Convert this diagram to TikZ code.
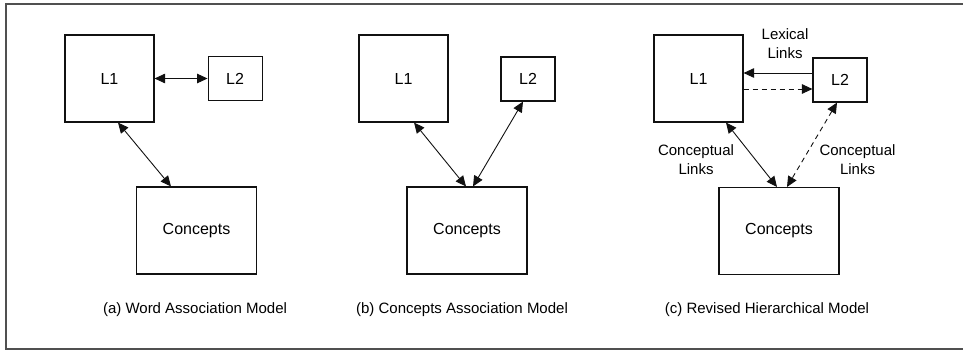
\documentclass[tikz,border=0pt]{standalone}
\usepackage{fontspec}
\setmainfont{Liberation Sans}
\usetikzlibrary{arrows.meta,positioning}
\definecolor{FrameGray}{HTML}{505050}
\definecolor{LineBlack}{HTML}{111111}

\begin{document}
\begin{tikzpicture}[x=1pt,y=-1pt,
  big/.style={rectangle,draw=LineBlack,line width=1.1pt,minimum width=89pt,minimum height=87pt,font=\fontsize{16}{19}\selectfont,inner sep=0pt},
  small/.style={rectangle,draw=LineBlack,line width=1.1pt,minimum width=54pt,minimum height=44pt,font=\fontsize{16}{19}\selectfont,inner sep=0pt},
  conc/.style={rectangle,draw=LineBlack,line width=1.1pt,minimum width=120pt,minimum height=87pt,font=\fontsize{16}{19}\selectfont,inner sep=0pt},
  caption/.style={font=\fontsize{15}{18}\selectfont,inner sep=0pt},
  linklabel/.style={font=\fontsize{15}{19}\selectfont,align=center,inner sep=0pt},
  both/.style={{Triangle[length=10.5pt,width=9.5pt]}-{Triangle[length=10.5pt,width=9.5pt]},line width=0.9pt,draw=LineBlack},
  single/.style={-{Triangle[length=10.5pt,width=9.5pt]},line width=0.9pt,draw=LineBlack},
  broken/.style={dash pattern=on 5pt off 4pt}]
\useasboundingbox (0,0) rectangle (963,351);
\draw[FrameGray,line width=1.4pt] (963,4) -- (6,4) -- (6,349) -- (963,349);

% (a) word association
\node[big] (l1a) at (109.5,78.5) {L1};
\node[small,right=53pt of l1a] (l2a) {L2};
\node[conc] (conca) at (196.5,230.5) {Concepts};
\node[caption] (capa) at (195,310) {(a) Word Association Model};
\draw[both] (l1a) -- (l2a);
\draw[both] ([xshift=8.5pt]l1a.south) -- ([xshift=-25.5pt]conca.north);

% (b) concepts association
\node[big] (l1b) at (403.5,78.5) {L1};
\node[small] (l2b) at (528,79) {L2};
\node[conc] (concb) at (467,230.5) {Concepts};
\node[caption] (capb) at (462,310) {(b) Concepts Association Model};
\draw[both] ([xshift=10.5pt]l1b.south) -- ([xshift=-1pt]concb.north);
\draw[both] ([xshift=-5pt]l2b.south) -- ([xshift=6pt]concb.north);

% (c) revised hierarchical
\node[big] (l1c) at (698.5,78.5) {L1};
\node[small] (l2c) at (840,80) {L2};
\node[conc] (concc) at (779,231) {Concepts};
\node[caption] (capc) at (767,310) {(c) Revised Hierarchical Model};
\draw[single] ([yshift=7pt]l2c.west) -- ([yshift=7pt]l2c.west -| l1c.east);
\draw[single,broken] ([yshift=-9pt]l2c.west -| l1c.east) -- ([yshift=-9pt]l2c.west);
\draw[both] ([xshift=27.5pt]l1c.south) -- ([xshift=-2pt]concc.north);
\draw[both,broken] ([xshift=-3pt]l2c.south) -- ([xshift=8pt]concc.north);
\node[linklabel] (lex) at (785,44) {Lexical\\Links};
\node[linklabel] (cleft) at (696,160) {Conceptual\\Links};
\node[linklabel] (cright) at (857.5,160) {Conceptual\\Links};
\end{tikzpicture}
\end{document}
